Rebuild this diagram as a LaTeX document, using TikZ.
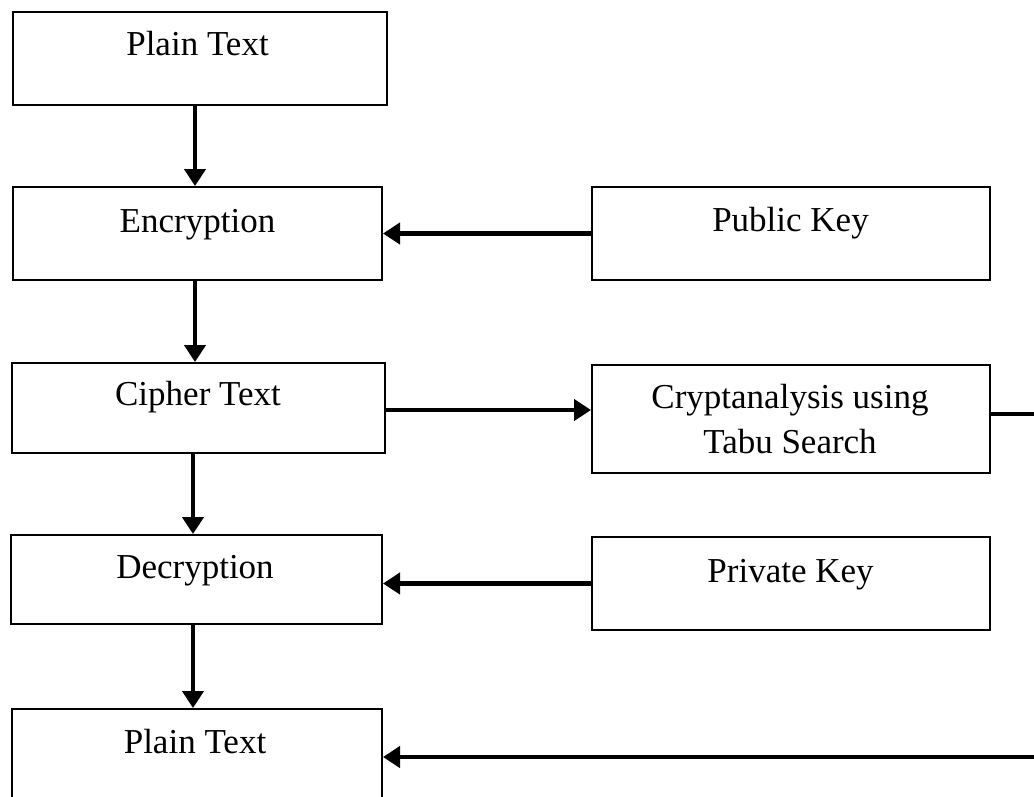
\documentclass[tikz,border=0pt]{standalone}
\usepackage{fontspec}
\setmainfont{Liberation Serif}
\usetikzlibrary{arrows.meta}
\begin{document}
\begin{tikzpicture}[x=1pt,y=-1pt,
  box/.style={draw=black, line width=2pt, fill=white, inner sep=0pt, rectangle},
  lbl/.style={anchor=base, inner sep=0pt, font=\fontsize{35}{43}\selectfont, align=center},
  arr/.style={line width=4.5pt, -{Triangle[length=17pt,width=21pt]}},
  plain/.style={line width=3.5pt}]
\useasboundingbox (0,0) rectangle (1034,796);
\clip (0,0) rectangle (1034,796);
\fill[white] (0,0) rectangle (1034,796);
% left column
\node[box, minimum width=374pt, minimum height=93pt] (p1) at (200,58.5) {};
\node[box, minimum width=369pt, minimum height=93pt] (enc) at (197.5,233.5) {};
\node[box, minimum width=373pt, minimum height=90pt] (ciph) at (198,408) {};
\node[box, minimum width=371pt, minimum height=89pt] (dec) at (196.5,579.5) {};
\node[box, minimum width=370pt, minimum height=96pt] (p2) at (197,757) {};
% right column
\node[box, minimum width=398pt, minimum height=93pt] (pub) at (791,233.5) {};
\node[box, minimum width=398pt, minimum height=108pt] (crypt) at (791,419) {};
\node[box, minimum width=398pt, minimum height=93pt] (priv) at (791,583.5) {};
% labels
\node[lbl] (tp1) at (197.5,55) {Plain Text};
\node[lbl] (tenc) at (197.5,232) {Encryption};
\node[lbl] (tciph) at (198,405) {Cipher Text};
\node[lbl] (tdec) at (195,578) {Decryption};
\node[lbl] (tp2) at (195,753) {Plain Text};
\node[lbl] (tpub) at (790.5,231) {Public Key};
\node[lbl] (tcr1) at (790,408) {Cryptanalysis using};
\node[lbl] (tcr2) at (790,453) {Tabu Search};
\node[lbl] (tpriv) at (790.5,582) {Private Key};
% vertical arrows
\draw[arr] (p1.south -| 195,0) -- (enc.north -| 195,0);
\draw[arr] (enc.south -| 195,0) -- (ciph.north -| 195,0);
\draw[arr] (ciph.south -| 193,0) -- (dec.north -| 193,0);
\draw[arr] (dec.south -| 193,0) -- (p2.north -| 193,0);
% horizontal arrows
\draw[arr] (pub.west) -- (enc.east |- pub.west);
\draw[arr] (ciph.east |- 0,410) -- (crypt.west |- 0,410);
\draw[arr] (priv.west) -- (dec.east |- priv.west);
% feedback path
\coordinate (rt) at (1045,414);
\coordinate (rb) at (1045,757);
\draw[plain] (crypt.east |- rt) -- (rt);
\draw[arr] (rb) -- (p2.east |- rb);
\end{tikzpicture}
\end{document}
